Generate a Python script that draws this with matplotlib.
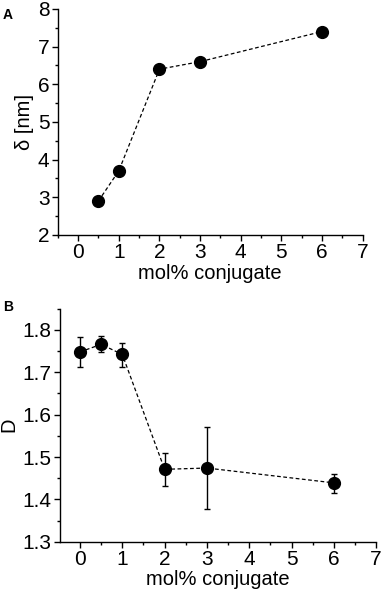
import matplotlib
matplotlib.use("Agg")
import matplotlib.pyplot as plt
from matplotlib.ticker import MultipleLocator

plt.rcParams['font.family'] = ['Liberation Sans', 'DejaVu Sans']

# panel A data
xa = [0.5, 1, 2, 3, 6]
delta = [2.9, 3.7, 6.4, 6.6, 7.4]

# panel B data
xb = [0, 0.5, 1, 2, 3, 6]
dval = [1.748, 1.766, 1.742, 1.471, 1.474, 1.439]
derr_lo = [0.036, 0.019, 0.029, 0.040, 0.097, 0.023]
derr_hi = [0.036, 0.020, 0.028, 0.039, 0.096, 0.022]

xticks = [0, 1, 2, 3, 4, 5, 6, 7]


def style_axes(ax):
    ax.spines['top'].set_visible(False)
    ax.spines['right'].set_visible(False)
    ax.spines['left'].set_linewidth(1.0)
    ax.spines['bottom'].set_linewidth(1.0)
    ax.tick_params(which='major', direction='out', length=4, width=1.0, labelsize=15, pad=2)
    ax.tick_params(which='minor', direction='out', length=2.5, width=1.0)
    ax.set_xticks(xticks)
    ax.xaxis.set_minor_locator(MultipleLocator(0.5))


fig = plt.figure(figsize=(3.83, 5.96), dpi=100)

# panel A
ax1 = fig.add_axes([0.151, 0.606, 0.796, 0.379])
ax1.plot(xa, delta, 'k--', lw=0.9, dashes=(3, 2), marker='o', ms=8.5)
ax1.set_xlim(-0.5, 7)
ax1.set_ylim(2, 8)
ax1.set_yticks([2, 3, 4, 5, 6, 7, 8])
ax1.yaxis.set_minor_locator(MultipleLocator(0.5))
style_axes(ax1)
ax1.set_xlabel('mol% conjugate', fontsize=14.5, labelpad=1)
ax1.set_ylabel('δ [nm]', fontsize=14.5, labelpad=3)
fig.text(0.008, 0.968, 'A', fontsize=10, fontweight='bold')

# panel B
ax2 = fig.add_axes([0.157, 0.091, 0.825, 0.391])
ax2.errorbar(xb, dval, yerr=[derr_lo, derr_hi], fmt='o', color='k', ms=8.5,
             ecolor='k', elinewidth=1.0, capsize=2.5, capthick=1.0)
ax2.plot(xb, dval, 'k--', lw=0.9, dashes=(3, 2))
ax2.set_xlim(-0.47, 7)
ax2.set_ylim(1.3, 1.85)
ax2.set_yticks([1.3, 1.4, 1.5, 1.6, 1.7, 1.8])
ax2.yaxis.set_minor_locator(MultipleLocator(0.05))
style_axes(ax2)
ax2.set_xlabel('mol% conjugate', fontsize=14.5, labelpad=1)
ax2.set_ylabel('D', fontsize=14.5, labelpad=3)
fig.text(0.008, 0.478, 'B', fontsize=10, fontweight='bold')

fig.savefig('out.png', dpi=100)
